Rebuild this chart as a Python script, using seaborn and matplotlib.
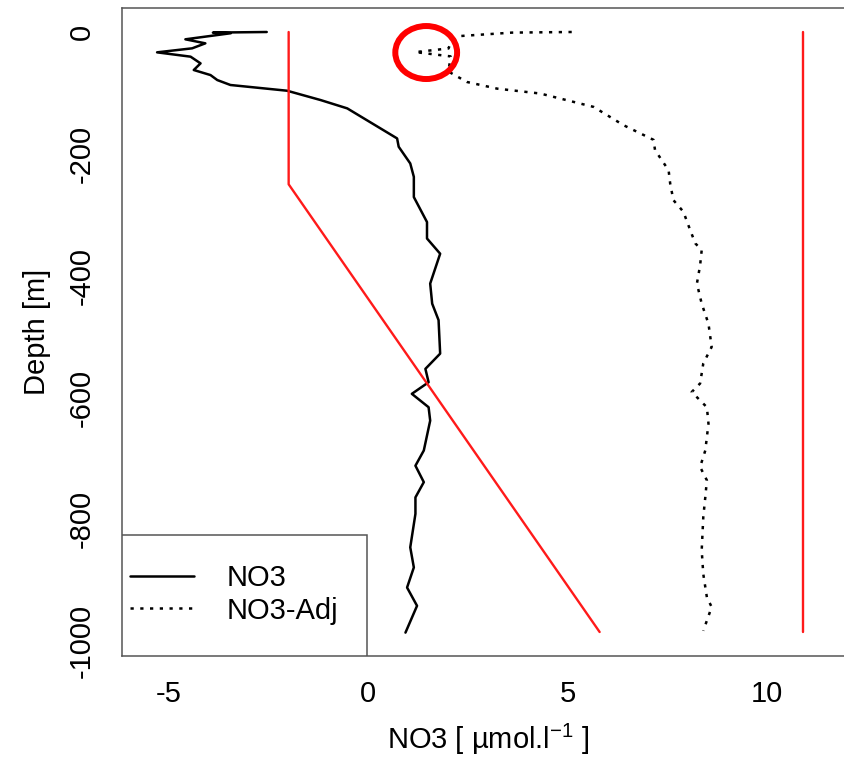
import numpy as np
import pandas as pd
import matplotlib
matplotlib.use('Agg')
import matplotlib.pyplot as plt
from matplotlib.lines import Line2D
from matplotlib.patches import Ellipse, Rectangle
import seaborn as sns

# NO3 profile (raw)
no3_x = [-2.55, -3.9, -3.45, -4.59, -4.09, -4.42, -5.30, -4.46, -4.21, -4.38, -3.96, -3.79,
         -3.46, -2.04, -1.2, -0.53, 0.72, 0.76, 1.05, 1.14, 1.14, 1.47, 1.47, 1.80, 1.55,
         1.60, 1.76, 1.80, 1.43, 1.51, 1.09, 1.51, 1.55, 1.39, 1.18, 1.39, 1.18, 1.18,
         1.05, 1.14, 0.97, 1.22, 0.93]
no3_depth = [0, -1, -2, -12, -18.6, -26.8, -33.4, -40.5, -51.5, -62.4, -70.7, -78.9,
             -87, -96.4, -111.7, -125.4, -174.7, -188.4, -215.8, -237.8, -271, -312, -339, -364, -413,
             -446, -473, -528, -553, -575, -594, -616, -638, -687, -712, -739, -764, -791,
             -846, -879, -912, -942, -986]

# NO3 adjusted profile
adj_x = [5.1, 3.6, 2.31, 2.05, 2.01, 1.18, 2.06, 2.01, 2.47, 3.23, 4.31, 5.65, 6.40, 7.15,
         7.19, 7.53, 7.57, 7.65, 7.90, 8.07, 8.20, 8.36, 8.32, 8.24, 8.36, 8.53, 8.61, 8.40,
         8.32, 8.11, 8.49, 8.53, 8.45, 8.32, 8.49, 8.45, 8.40, 8.36, 8.40, 8.49, 8.61, 8.40]
adj_depth = [0, -1, -6.6, -20, -27, -33, -40, -65, -82, -93, -101, -123, -153, -177,
             -194, -227, -249, -276, -295, -325, -347, -358, -383, -413, -446, -479, -517, -544,
             -577, -591, -616, -643, -687, -714, -736, -764, -796, -851, -890, -928, -944, -983]

# red reference lines
lim_lo_x = [-2, -2, 5.8]
lim_lo_depth = [0, -250, -985]
lim_hi_x = [10.9, 10.9]
lim_hi_depth = [0, -985]

x_ticks = [-5, 0, 5, 10]
y_ticks = [0, -200, -400, -600, -800, -1000]

sns.set_theme(style='white')
plt.rcParams['font.family'] = ['Liberation Sans', 'DejaVu Sans']
plt.rcParams['mathtext.fontset'] = 'custom'
plt.rcParams['mathtext.rm'] = 'Liberation Sans'
plt.rcParams['text.color'] = 'black'
plt.rcParams['axes.labelcolor'] = 'black'
FS = 21
EDGE = '#555555'

fig = plt.figure(figsize=(8.45, 7.58), dpi=100)
ax = fig.add_axes([122/845, 1-656/758, 732/845, 648/758])

sns.lineplot(x=no3_x, y=no3_depth, sort=False, estimator=None, color='black', lw=1.8, ax=ax)
sns.lineplot(x=adj_x, y=adj_depth, sort=False, estimator=None, color='black', lw=1.8,
             linestyle=(0, (1.3, 2.6)), ax=ax)
sns.lineplot(x=lim_lo_x, y=lim_lo_depth, sort=False, estimator=None, color='#ff1a1a', lw=1.7, ax=ax)
sns.lineplot(x=lim_hi_x, y=lim_hi_depth, sort=False, estimator=None, color='#ff1a1a', lw=1.7, ax=ax)

ax.set_xlim(-6.18, 12.18)
ax.set_ylim(-1024.4, 39.4)
ax.set_xticks(x_ticks)
ax.set_xticklabels([str(t) for t in x_ticks])
ax.set_yticks(y_ticks)
ax.set_yticklabels([str(t) for t in y_ticks], rotation=90, va='center')
ax.tick_params(axis='both', direction='out', color=EDGE, width=1.1, labelsize=FS,
               labelcolor='black')
ax.tick_params(axis='x', length=10, pad=7)
ax.tick_params(axis='y', length=8, pad=11)
for s in ax.spines.values():
    s.set_color(EDGE)
    s.set_linewidth(1.1)

ax.set_xlabel('NO3 [ µmol.l$^{\\mathregular{-1}}$ ]', fontsize=FS, labelpad=10, color='black')
ax.set_ylabel('Depth [m]', fontsize=FS, labelpad=12, color='black')

# legend box
ax.add_patch(Rectangle((0, 0), 245/732, 121/648, transform=ax.transAxes,
                       fill=True, fc='white', ec=EDGE, lw=1.1, zorder=5))
handles = [Line2D([], [], color='black', lw=1.8),
           Line2D([], [], color='black', lw=1.8, linestyle=(0, (1.3, 2.6)))]
leg = ax.legend(handles, ['NO3', 'NO3-Adj'], loc='center left',
                bbox_to_anchor=(8/732, 61.5/648), frameon=False, fontsize=FS,
                borderpad=0, borderaxespad=0, handlelength=2.2, handletextpad=1.1,
                labelspacing=0.15)
for t in leg.get_texts():
    t.set_color('black')
leg.set_zorder(6)

# highlight circle
ax.add_patch(Ellipse((1.45, -33.7), width=1.55, height=87, fill=False,
                     ec='red', lw=4.3, zorder=7, clip_on=False))

fig.savefig('out.png', dpi=100, facecolor='white')
